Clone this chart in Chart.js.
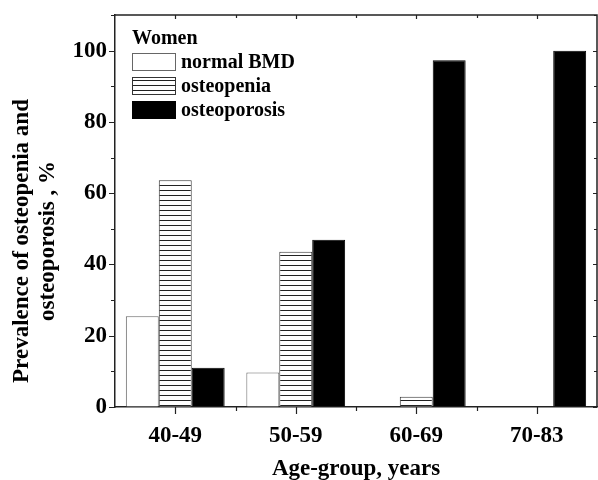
<!DOCTYPE html>
<html><head><meta charset="utf-8">
<script src="https://cdn.jsdelivr.net/npm/chart.js@4"></script>
<style>html,body{margin:0;padding:0;background:#fff}</style>
</head><body>
<canvas id="c" width="598" height="480" style="display:block;width:598px;height:480px"></canvas>
<script>
const categories = ['40-49', '50-59', '60-69', '70-83'];
const normalBMD = [25.5, 9.7, 0, 0];
const osteopenia = [63.6, 43.6, 2.9, 0];
const osteoporosis = [11.0, 46.9, 97.3, 100];
const yTicks = [0, 20, 40, 60, 80, 100];
const seriesLabels = ['normal BMD', 'osteopenia', 'osteoporosis'];
const legendTitle = 'Women';
const xTitle = 'Age-group, years';
const yTitle = ['Prevalence of osteopenia and', 'osteoporosis , %'];

const FONT = "'Liberation Serif', 'Times New Roman', serif";

function makeStripe() {
  const p = document.createElement('canvas');
  p.width = 8; p.height = 5;
  const g = p.getContext('2d');
  g.fillStyle = '#fff'; g.fillRect(0, 0, 8, 5);
  g.fillStyle = '#222'; g.fillRect(0, 0, 8, 1);
  return document.getElementById('c').getContext('2d').createPattern(p, 'repeat');
}
const stripe = makeStripe();

const framePlugin = {
  id: 'frame',
  afterDraw(chart) {
    const ctx = chart.ctx;
    const a = chart.chartArea;
    const xs = chart.scales.x, ys = chart.scales.y;
    ctx.save();
    ctx.strokeStyle = '#222';
    ctx.lineWidth = 1.5;
    ctx.beginPath();
    ctx.moveTo(a.left, a.top); ctx.lineTo(a.right, a.top); ctx.lineTo(a.right, a.bottom);
    ctx.stroke();
    ctx.lineWidth = 1.2;
    ctx.beginPath();
    for (let v = ys.min; v <= ys.max; v += 10) {
      const y = Math.round(ys.getPixelForValue(v)) + 0.5;
      const major = yTicks.includes(v);
      ctx.moveTo(a.left, y); ctx.lineTo(a.left - (major ? 6 : 4), y);
      ctx.moveTo(a.right, y); ctx.lineTo(a.right - (major ? 4 : 3), y);
    }
    const centers = categories.map((c, i) => xs.getPixelForValue(i));
    centers.forEach((x, i) => {
      const xx = Math.round(x) + 0.5;
      ctx.moveTo(xx, a.bottom); ctx.lineTo(xx, a.bottom + 7);
      ctx.moveTo(xx, a.top); ctx.lineTo(xx, a.top + 4);
      if (i < centers.length - 1) {
        const m = Math.round((x + centers[i + 1]) / 2) + 0.5;
        ctx.moveTo(m, a.bottom); ctx.lineTo(m, a.bottom + 4);
        ctx.moveTo(m, a.top); ctx.lineTo(m, a.top + 3);
      }
    });
    ctx.stroke();

    ctx.fillStyle = '#000';
    ctx.font = 'bold 23px ' + FONT;
    ctx.textAlign = 'center';
    ctx.textBaseline = 'alphabetic';
    ctx.fillText(xTitle, (a.left + a.right) / 2, 475);
    ctx.save();
    ctx.translate(28, 241);
    ctx.rotate(-Math.PI / 2);
    ctx.fillText(yTitle[0], 0, 0);
    ctx.restore();
    ctx.save();
    ctx.translate(54, 241);
    ctx.rotate(-Math.PI / 2);
    ctx.fillText(yTitle[1], 0, 0);
    ctx.restore();

    ctx.font = 'bold 20px ' + FONT;
    ctx.textAlign = 'left';
    ctx.textBaseline = 'middle';
    ctx.fillText(legendTitle, 132, 39);
    chart.data.datasets.forEach((ds, i) => {
      const cy = 62 + i * 24;
      ctx.fillStyle = ds.backgroundColor;
      ctx.fillRect(132, cy - 9, 44, 18);
      ctx.strokeStyle = ds.borderColor;
      ctx.lineWidth = 1;
      ctx.strokeRect(132.5, cy - 8.5, 43, 17);
      ctx.fillStyle = '#000';
      ctx.fillText(ds.label, 181, cy + 1);
    });
    ctx.restore();
  }
};

new Chart(document.getElementById('c'), {
  type: 'bar',
  data: {
    labels: categories,
    datasets: [
      { label: seriesLabels[0], data: normalBMD, backgroundColor: '#fff', borderColor: '#666', borderWidth: 1 },
      { label: seriesLabels[1], data: osteopenia, backgroundColor: stripe, borderColor: '#333', borderWidth: 1 },
      { label: seriesLabels[2], data: osteoporosis, backgroundColor: '#000', borderColor: '#000', borderWidth: 1 }
    ]
  },
  options: {
    responsive: false,
    animation: false,
    devicePixelRatio: 1,
    layout: { padding: { top: 15, right: 1, left: 0, bottom: 0 } },
    datasets: { bar: { categoryPercentage: 0.82, barPercentage: 1.0 } },
    plugins: { legend: { display: false }, tooltip: { enabled: false } },
    scales: {
      x: {
        grid: { display: true, drawOnChartArea: false, drawTicks: false },
        border: { display: true, color: '#222', width: 1.5 },
        ticks: { font: { family: FONT, size: 23, weight: 'bold' }, color: '#000', padding: 15, maxRotation: 0 },
        afterFit(s) { s.height = 73; s.paddingLeft = 0; s.paddingRight = 0; }
      },
      y: {
        min: 0, max: 110,
        grid: { display: true, drawOnChartArea: false, drawTicks: false },
        border: { display: true, color: '#222', width: 1.5 },
        ticks: {
          stepSize: 10, autoSkip: false,
          callback: (v) => yTicks.includes(v) ? String(v) : '',
          font: { family: FONT, size: 23, weight: 'bold' }, color: '#000', padding: 8
        },
        afterFit(s) { s.width = 115; s.paddingTop = 0; s.paddingBottom = 0; }
      }
    }
  },
  plugins: [framePlugin]
});
</script>
</body></html>
